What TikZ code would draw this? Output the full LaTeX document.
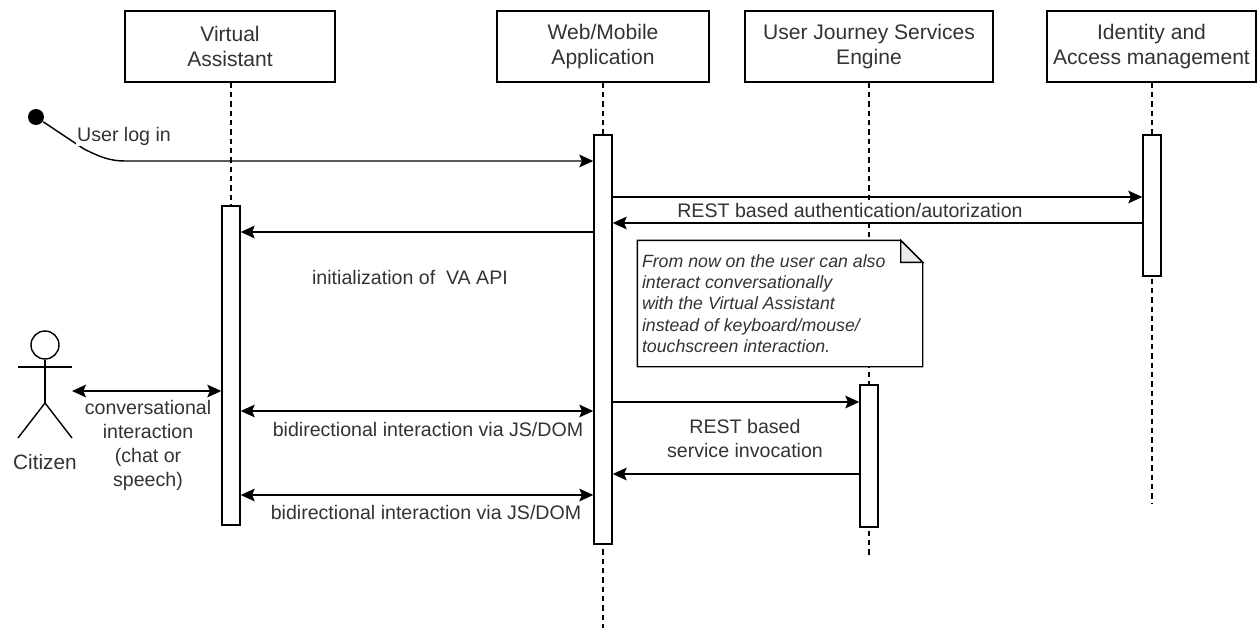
\documentclass[tikz,border=0pt]{standalone}
\usepackage{fontspec}
\setmainfont{Liberation Sans}
\usetikzlibrary{arrows.meta, positioning, calc}
\colorlet{txtgray}{black!80}
\tikzset{
  head/.style={rectangle, draw=black, fill=white, align=center, minimum height=53.25pt, inner sep=0, text=txtgray, font=\fontsize{15.8}{18.75}\selectfont},
  bar/.style={rectangle, draw=black, fill=white, minimum width=13.5pt, inner sep=0},
  lifeline/.style={dash pattern=on 4pt off 3pt},
  msg/.style={-{Stealth[length=10.5pt,width=9.5pt,inset=2pt]}},
  both/.style={{Stealth[length=10.5pt,width=9.5pt,inset=2pt]}-{Stealth[length=10.5pt,width=9.5pt,inset=2pt]}},
  txt/.style={align=center, text=txtgray, inner sep=1pt, font=\fontsize{14.7}{18}\selectfont}
}
\begin{document}
\begin{tikzpicture}[x=0.75pt, y=-0.75pt, line width=1.05pt]
        \useasboundingbox (0,0) rectangle (1258,628);
        % Lifeline heads
        \node[head, minimum width=157.5pt] (va) at (230,46.5) {Virtual\\Assistant};
        \node[head, minimum width=159pt] (web) at (603,46.5) {Web/Mobile\\Application};
        \node[head, minimum width=186pt] (ujs) at (869,46.5) {User Journey Services\\Engine};
        \node[head, minimum width=156.75pt] (iam) at (1151.5,46.5) {Identity and\\Access management};
        % Lifelines
        \coordinate (vaend) at (231,525);
        \coordinate (webend) at (603,628);
        \coordinate (ujsend) at (869,557);
        \coordinate (iamend) at (1152,503);
        \draw[lifeline] (va.south -| vaend) -- (vaend);
        \draw[lifeline] (web.south -| webend) -- (webend);
        \draw[lifeline] (ujs.south -| ujsend) -- (ujsend);
        \draw[lifeline] (iam.south -| iamend) -- (iamend);
        % Activation bars
        \node[bar, minimum height=239.25pt] (vabar) at (231,365.5) {};
        \node[bar, minimum height=306.75pt] (webbar) at (603,339.5) {};
        \node[bar, minimum height=106.5pt] (ujsbar) at (869,456) {};
        \node[bar, minimum height=105.75pt] (iambar) at (1152,205.5) {};
        % Message levels
        \coordinate (ylogin) at (0,161);
        \coordinate (yauth) at (0,197);
        \coordinate (yrest) at (0,223);
        \coordinate (yinit) at (0,232);
        \coordinate (ychat) at (0,391);
        \coordinate (yinvoke) at (0,402);
        \coordinate (ybione) at (0,411);
        \coordinate (yreply) at (0,474);
        \coordinate (ybitwo) at (0,495);
        % User log in
        \node[circle, fill=black, minimum size=12pt, inner sep=0] (start) at (36,117) {};
        \coordinate (bend) at (125,161);
        \draw[msg] (start) -- (84,149) .. controls (100,157) and (110,161) .. (bend) -- (webbar.west |- ylogin);
        \node[txt, fill=white] (login) at (124,136) {User log in};
        % Messages
        \draw[msg] (webbar.east |- yauth) -- (iambar.west |- yauth);
        \draw[msg] (iambar.west |- yrest) -- (webbar.east |- yrest);
        \node[txt, fill=white] (restlabel) at (850,210) {REST based authentication/autorization};
        \draw[msg] (webbar.west |- yinit) -- (vabar.east |- yinit);
        \node[txt] (initlabel) at (410,277) {initialization of\ \ VA API};
        % Note
        \node[minimum width=213pt, minimum height=93.75pt, inner sep=0] (note) at (780,303.5) {};
        \coordinate (foldtop) at ($(note.north east)+(-22,0)$);
        \coordinate (foldside) at ($(note.north east)+(0,22)$);
        \fill[white] (note.north west) -- (foldtop) -- (foldside) -- (note.south east) -- (note.south west) -- cycle;
        \draw (note.north west) -- (foldtop) -- (foldside) -- (note.south east) -- (note.south west) -- cycle;
        \draw[fill=black!8] (foldtop) -- (foldside) -- (foldtop |- foldside) -- cycle;
        \node[align=left, text=txtgray, inner sep=0, anchor=west, font=\fontsize{13.3}{16}\selectfont\itshape] (notetext) at ($(note.west)+(4,0)$) {From now on the user can also\\interact conversationally\\with the Virtual Assistant\\instead of keyboard/mouse/\\touchscreen interaction.};
        % REST service call
        \draw[msg] (webbar.east |- yinvoke) -- (ujsbar.west |- yinvoke);
        \node[txt] (invokelabel) at (745,438) {REST based\\service invocation};
        \draw[msg] (ujsbar.west |- yreply) -- (webbar.east |- yreply);
        % Bidirectional interaction
        \draw[both] (vabar.east |- ybione) -- (webbar.west |- ybione);
        \node[txt] (bione) at (428,429) {bidirectional interaction via JS/DOM};
        \draw[both] (vabar.east |- ybitwo) -- (webbar.west |- ybitwo);
        \node[txt] (bitwo) at (426,512) {bidirectional interaction via JS/DOM};
        % Citizen
        \node[circle, draw=black, minimum size=21pt, inner sep=0] (citizen) at (45,345) {};
        \coordinate (hip) at (45,403);
        \draw (citizen.south) -- (hip);
        \draw (18,367) -- (72,367);
        \draw (18,438) -- (hip) -- (72,438);
        \node[txt, font=\fontsize{15.6}{18}\selectfont] (citizenlabel) at (45,462) {Citizen};
        \draw[both] (72,391) -- (vabar.west |- ychat);
        \node[txt] (chatlabel) at (148,445) {conversational\\interaction\\(chat or\\speech)};
\end{tikzpicture}
\end{document}
